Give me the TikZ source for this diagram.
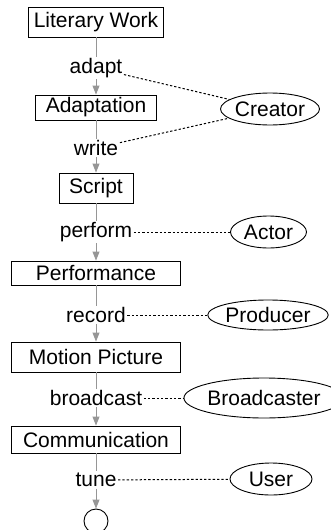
\documentclass[tikz,border=0pt]{standalone}
\usepackage{fontspec}
\setmainfont{Liberation Sans}
\usetikzlibrary{shapes.geometric,arrows.meta}
\begin{document}
\begin{tikzpicture}[x=1pt,y=-1pt,
  font=\fontsize{21}{24}\selectfont,
  box/.style={draw, line width=0.9pt, inner sep=0pt},
  lbl/.style={inner sep=1.5pt},
  ell/.style={draw, ellipse, line width=0.9pt, inner sep=0pt},
  flow/.style={draw={rgb,255:red,150;green,150;blue,150}, line width=0.9pt},
  arr/.style={flow, -{Triangle[length=9pt,width=7pt]}},
  rel/.style={draw, line width=1pt, dash pattern=on 2.3pt off 2pt}]
\useasboundingbox (0,0) rectangle (331,530);
% main column
\node[box, minimum width=135pt, minimum height=30pt] (lw) at (96,22) {Literary Work};
\node[lbl] (adapt) at (96,68) {adapt};
\node[box, minimum width=121pt, minimum height=25pt] (adaptation) at (96,107.5) {Adaptation};
\node[lbl] (write) at (96,148) {write};
\node[box, minimum width=74pt, minimum height=30pt] (script) at (96,188) {Script};
\node[lbl] (perform) at (96,232) {perform};
\node[box, minimum width=169pt, minimum height=24pt] (performance) at (96,273) {Performance};
\node[lbl] (record) at (96,315) {record};
\node[box, minimum width=169pt, minimum height=30pt] (motion) at (96,357) {Motion Picture};
\node[lbl] (broadcast) at (96,398) {broadcast};
\node[box, minimum width=169pt, minimum height=27pt] (comm) at (96,439.5) {Communication};
\node[lbl] (tune) at (96,480) {tune};
\node[draw, circle, line width=0.9pt, minimum size=24pt, inner sep=0pt] (end) at (96,521) {};
% agents
\node[ell, minimum width=96pt, minimum height=32pt] (creator) at (270,109) {Creator};
\node[ell, minimum width=76pt, minimum height=32pt] (actor) at (268.5,232) {Actor};
\node[ell, minimum width=114pt, minimum height=30pt] (producer) at (268,315) {Producer};
\node[ell, minimum width=132pt, minimum height=40pt] (broadcaster) at (264,398) {Broadcaster};
\node[ell, minimum width=82pt, minimum height=32pt] (user) at (271,479) {User};
% flow
\draw[flow] (lw) -- (adapt);
\draw[arr] (adapt) -- (adaptation);
\draw[flow] (adaptation) -- (write);
\draw[arr] (write) -- (script);
\draw[flow] (script) -- (perform);
\draw[arr] (perform) -- (performance);
\draw[flow] (performance) -- (record);
\draw[arr] (record) -- (motion);
\draw[flow] (motion) -- (broadcast);
\draw[arr] (broadcast) -- (comm);
\draw[flow] (comm) -- (tune);
\draw[arr] (tune) -- (end);
% relations
\draw[rel] (adapt) -- (creator);
\draw[rel] (write) -- (creator);
\draw[rel] (perform) -- (actor);
\draw[rel] (record) -- (producer);
\draw[rel] (broadcast) -- (broadcaster);
\draw[rel] (tune) -- (user);
\end{tikzpicture}
\end{document}
